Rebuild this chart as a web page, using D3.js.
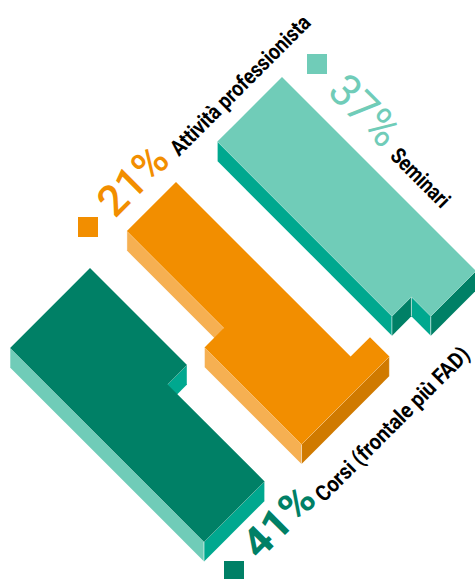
<!DOCTYPE html>
<html>
<head>
<meta charset="utf-8">
<script src="https://cdn.jsdelivr.net/npm/d3@7/dist/d3.min.js"></script>
<style>
  body { margin: 0; background: #fff; }
  text { font-family: Roboto, "Liberation Sans", sans-serif; }
  text.name { font-family: "Liberation Sans Narrow", Roboto, sans-serif; }
</style>
</head>
<body>
<div class="chart"></div>
<script>
var width = 475,
    height = 579,
    depth = 19.5;

// data
var categories = ["Corsi (frontale più FAD)", "Attività professionista", "Seminari"];
var shares = [41, 21, 37];

// footprint of each block, in grid units: strips across the width
var corsiWidths = [1, 3.12],
    corsiStarts = [0, 0],
    corsiEnds = [5, 10];
var attivitaWidths = [1, 2.53, 1],
    attivitaStarts = [9, 0, 5],
    attivitaEnds = [10, 10, 10];
var seminariWidths = [2.33, 1],
    seminariStarts = [0, 0],
    seminariEnds = [10, 9];

var footprints = [
  { widths: corsiWidths, starts: corsiStarts, ends: corsiEnds, vStart: 0 },
  { widths: attivitaWidths, starts: attivitaStarts, ends: attivitaEnds, vStart: -1 },
  { widths: seminariWidths, starts: seminariStarts, ends: seminariEnds, vStart: 0 }
];

// layout
var origins = [[90, 268], [176, 182], [282, 77]];
var swatches = [[224, 561], [78, 217], [307, 54]];
// top face, side wall (facing down-left), front wall (facing down-right)
var palette = [
  { top: "#008066", side: "#70CCB8", front: "#00A88F", swatch: "#008066" },
  { top: "#F28E00", side: "#F6B052", front: "#D07A00", swatch: "#F28E00" },
  { top: "#70CCB8", side: "#00A88F", front: "#008066", swatch: "#70CCB8" }
];
var pctLabels = [
  { x: 259, y: 561, angle: -45, len: 84, size: 41, weight: 700 },
  { x: 115, y: 219, angle: -45, len: 80, size: 43, weight: 500 },
  { x: 326, y: 93, angle: 45, len: 80, size: 45, weight: 400 }
];
var nameLabels = [
  { x: 324, y: 503, angle: -45, len: 208, size: 22 },
  { x: 179, y: 157, angle: -45, len: 188, size: 22 },
  { x: 389, y: 157, angle: 45, len: 74, size: 22 }
];

var grid = d3.scaleLinear().domain([0, 10]).range([0, 194]);

var svg = d3.select(".chart").append("svg")
    .attr("width", width)
    .attr("height", height)
    .style("display", "block");

function project(origin, u, v, drop) {
  return [origin[0] + grid(u) - grid(v), origin[1] + grid(u) + grid(v) + (drop || 0)];
}

var line = d3.line();

footprints.forEach(function(f, i) {
  var origin = origins[i],
      colors = palette[i],
      g = svg.append("g");

  // strip edges across the width
  var edges = [f.vStart];
  f.widths.forEach(function(w) { edges.push(edges[edges.length - 1] + w); });

  // outline of the top face
  var outline = [];
  f.widths.forEach(function(w, k) {
    outline.push(project(origin, f.starts[k], edges[k]));
    outline.push(project(origin, f.starts[k], edges[k + 1]));
  });
  for (let k = f.widths.length - 1; k >= 0; k--) {
    outline.push(project(origin, f.ends[k], edges[k + 1]));
    outline.push(project(origin, f.ends[k], edges[k]));
  }

  function wall(a, b, color) {
    var pts = [a, b, [b[0], b[1] + depth], [a[0], a[1] + depth]];
    g.append("path").attr("d", line(pts) + "Z").attr("fill", color);
    // pale edge along the top and down the corners
    g.append("path").attr("d", line([[a[0], a[1] + depth], a, b, [b[0], b[1] + depth]]))
      .attr("fill", "none").attr("stroke", "#fff").attr("stroke-opacity", 0.55).attr("stroke-width", 0.8);
  }

  // side walls: what a strip shows where the next one does not cover it
  f.widths.forEach(function(w, k) {
    var hasNext = k + 1 < f.widths.length,
        nextStart = hasNext ? f.starts[k + 1] : Infinity,
        nextEnd = hasNext ? f.ends[k + 1] : Infinity;
    if (Math.min(f.ends[k], nextStart) > f.starts[k]) {
      wall(project(origin, f.starts[k], edges[k + 1]), project(origin, Math.min(f.ends[k], nextStart), edges[k + 1]), colors.side);
    }
    if (f.ends[k] > Math.max(f.starts[k], nextEnd)) {
      wall(project(origin, Math.max(f.starts[k], nextEnd), edges[k + 1]), project(origin, f.ends[k], edges[k + 1]), colors.side);
    }
  });

  // front walls, strips with the same end make one wall
  var k = 0;
  while (k < f.widths.length) {
    var last = k;
    while (last + 1 < f.widths.length && f.ends[last + 1] === f.ends[k]) last++;
    wall(project(origin, f.ends[k], edges[k]), project(origin, f.ends[k], edges[last + 1]), colors.front);
    k = last + 1;
  }

  g.append("path").attr("d", line(outline) + "Z").attr("fill", colors.top);

  svg.append("rect")
      .attr("x", swatches[i][0]).attr("y", swatches[i][1])
      .attr("width", 20).attr("height", 20)
      .attr("fill", colors.swatch);

  var p = pctLabels[i];
  svg.append("text")
      .attr("transform", "translate(" + p.x + "," + p.y + ") rotate(" + p.angle + ")")
      .attr("font-size", p.size)
      .attr("font-weight", p.weight)
      .attr("fill", colors.swatch)
      .attr("textLength", p.len)
      .attr("lengthAdjust", "spacingAndGlyphs")
      .text(shares[i] + "%");

  var n = nameLabels[i];
  svg.append("text")
      .attr("class", "name")
      .attr("transform", "translate(" + n.x + "," + n.y + ") rotate(" + n.angle + ")")
      .attr("font-size", n.size)
      .attr("font-weight", 700)
      .attr("fill", "#000")
      .attr("textLength", n.len)
      .attr("lengthAdjust", "spacingAndGlyphs")
      .text(categories[i]);
});
</script>
</body>
</html>
